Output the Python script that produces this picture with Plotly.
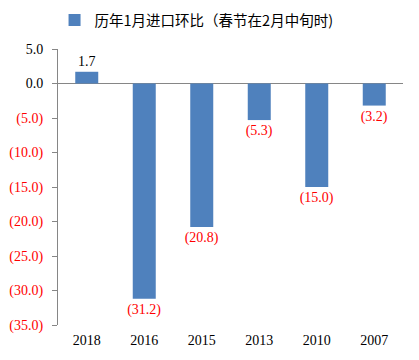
import plotly.graph_objects as go

years = ["2018", "2016", "2015", "2013", "2010", "2007"]
values = [1.7, -31.2, -20.8, -5.3, -15.0, -3.2]
series_name = "历年1月进口环比（春节在2月中旬时)"
tick_vals = [5, 0, -5, -10, -15, -20, -25, -30, -35]

def fmt(v):
    return f"({abs(v):.1f})" if v < 0 else f"{v:.1f}"

tick_text = [fmt(v) if v >= 0 else f"<span style='color:#FF0000'>{fmt(v)}</span>" for v in tick_vals]
bar_text = [fmt(v) for v in values]
bar_text_colors = ["#000000" if v >= 0 else "#FF0000" for v in values]

font_family = "Liberation Serif, Noto Sans CJK SC, serif"

fig = go.Figure()
fig.add_trace(go.Bar(
    x=years, y=values, name=series_name,
    marker=dict(color="#4F81BD", line=dict(width=0)),
    text=bar_text, textposition="outside", cliponaxis=False,
    constraintext="none",
    textfont=dict(color=bar_text_colors, size=14, family=font_family),
    showlegend=True,
))
fig.update_layout(
    width=419, height=360,
    margin=dict(l=50, r=24, t=41, b=43, autoexpand=False),
    paper_bgcolor="white", plot_bgcolor="white",
    bargap=0.6,
    font=dict(family=font_family, size=14, color="#000000"),
    showlegend=True,
    legend=dict(orientation="h", x=0.45, xref="container", xanchor="center",
                y=1 - 12/360, yref="container", yanchor="middle",
                font=dict(size=14.5, family="Noto Sans CJK SC, sans-serif"),
                itemwidth=30, bgcolor="rgba(0,0,0,0)"),
    xaxis=dict(showline=False, showgrid=False, zeroline=False, ticks="",
               tickfont=dict(size=14), fixedrange=True, automargin=False,
               ticklabelstandoff=5),
    yaxis=dict(range=[-35, 5], tickvals=tick_vals, ticktext=tick_text,
               showgrid=False, showline=True, linecolor="#868686", linewidth=1,
               ticks="outside", ticklen=5, tickcolor="#868686",
               zeroline=True, zerolinecolor="#868686", zerolinewidth=1,
               tickfont=dict(size=14), fixedrange=True, automargin=False,
               ticklabelstandoff=6),
)
fig.write_html("out.html")
